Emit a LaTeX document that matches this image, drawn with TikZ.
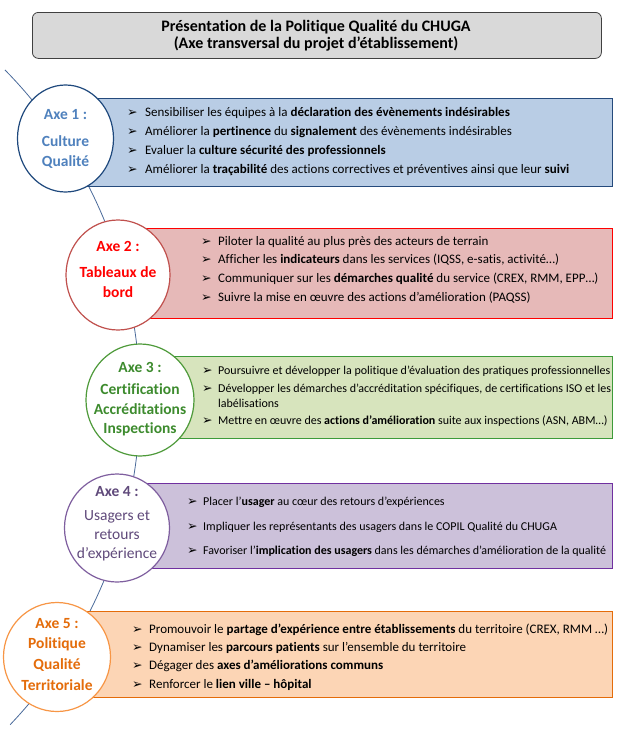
\documentclass[tikz,border=0pt]{standalone}
\usepackage{fontspec}
\setmainfont{Carlito}[Ligatures=NoCommon]
\newfontfamily\symfont{DejaVu Sans}
\usetikzlibrary{shapes.geometric}
\definecolor{arcline}{HTML}{4A6A9A}
\definecolor{titlefill}{HTML}{D9D9D9}
\definecolor{titledraw}{HTML}{404040}
\definecolor{aAtext}{HTML}{4F81BD}
\definecolor{aAcirc}{HTML}{1F497D}
\definecolor{aAfill}{HTML}{B9CDE5}
\definecolor{aAdraw}{HTML}{254A7C}
\definecolor{aBtext}{HTML}{FF0000}
\definecolor{aBcirc}{HTML}{C0504D}
\definecolor{aBfill}{HTML}{E6B9B8}
\definecolor{aBdraw}{HTML}{FF0000}
\definecolor{aCtext}{HTML}{3D8B2E}
\definecolor{aCcirc}{HTML}{4E9A3A}
\definecolor{aCfill}{HTML}{D7E4BD}
\definecolor{aCdraw}{HTML}{3E9B3A}
\definecolor{aDtext}{HTML}{604A7B}
\definecolor{aDcirc}{HTML}{7F5F9F}
\definecolor{aDfill}{HTML}{CCC1DA}
\definecolor{aDdraw}{HTML}{7030A0}
\definecolor{aEtext}{HTML}{E46C0A}
\definecolor{aEcirc}{HTML}{F79646}
\definecolor{aEfill}{HTML}{FCD5B5}
\definecolor{aEdraw}{HTML}{E46C0A}
\newcommand\itemrow[5]{%
  \node[bul] (#1b) at (#2,#4) {➢};
  \node[itemtxt] (#1) at (#3,#4) {#5};}
\begin{document}
\begin{tikzpicture}[x=1pt,y=-1pt,
  axbox/.style={draw, line width=1.1pt, inner sep=0pt, anchor=north west},
  axcirc/.style={ellipse, draw, fill=white, line width=1.2pt, inner sep=0pt},
  axtext/.style={align=center, inner sep=0pt, font=\bfseries\fontsize{15.5}{20}\selectfont},
  itemtxt/.style={anchor=west, inner sep=0pt, font=\fontsize{13}{15}\selectfont},
  smalltxt/.style={font=\fontsize{12}{14}\selectfont},
  bul/.style={anchor=west, inner sep=0pt, font=\symfont\fontsize{12.5}{14}\selectfont}]
\useasboundingbox (0,0) rectangle (628,731);
% title
\node[draw=titledraw, fill=titlefill, rounded corners=6pt, line width=0.8pt,
      minimum width=569pt, minimum height=46pt, anchor=north west] (tbox) at (32,12) {};
\node[align=center, font=\bfseries\fontsize{16}{17}\selectfont] (title) at (316,36)
  {Présentation de la Politique Qualité du CHUGA\\(Axe transversal du projet d’établissement)};
% arc line
\coordinate (arcc) at (-331,400);
\draw[arcline, line width=0.8pt] plot[domain=-44.5:43.6, samples=90]
  ({-331+471*cos(\x)}, {400+471*sin(\x)});
% boxes
\node[axbox, draw=aAdraw, fill=aAfill, minimum width=547pt, minimum height=88pt] (r1) at (65,98) {};
\node[axbox, draw=aBdraw, fill=aBfill, minimum width=494pt, minimum height=90pt] (r2) at (118,228) {};
\node[axbox, draw=aCdraw, fill=aCfill, minimum width=472pt, minimum height=82pt] (r3) at (140,356) {};
\node[axbox, draw=aDdraw, fill=aDfill, minimum width=495pt, minimum height=85pt] (r4) at (117,483) {};
\node[axbox, draw=aEdraw, fill=aEfill, minimum width=555pt, minimum height=86pt] (r5) at (57,611) {};
% circles
\node[axcirc, draw=aAcirc, minimum width=96pt, minimum height=107pt] (c1) at (65.5,138.5) {};
\node[axcirc, draw=aBcirc, minimum width=104pt, minimum height=110pt] (c2) at (118,275) {};
\node[axcirc, draw=aCcirc, minimum width=108pt, minimum height=112pt] (c3) at (140,400) {};
\node[axcirc, draw=aDcirc, minimum width=105pt, minimum height=108pt] (c4) at (117,528) {};
\node[axcirc, draw=aEcirc, minimum width=107pt, minimum height=109pt] (c5) at (57,657) {};
% circle texts
\node[axtext, text=aAtext] (t1) at (65.5,138.5) {Axe 1 :\\[7pt]Culture\\Qualité};
\node[axtext, text=aBtext] (t2) at (118,269) {Axe 2 :\\[6pt]Tableaux de\\bord};
\node[axtext, text=aCtext, font=\bfseries\fontsize{15.5}{19.5}\selectfont] (t3) at (140,399) {Axe 3 :\\[3pt]Certification\\Accréditations\\Inspections};
\node[axtext, text=aDtext, font=\fontsize{15.5}{19}\selectfont] (t4) at (117,524) {\textbf{Axe 4 :}\\[5pt]Usagers et\\retours\\d’expérience};
\node[axtext, text=aEtext, font=\bfseries\fontsize{15.5}{21}\selectfont] (t5) at (57,655) {Axe 5 :\\[-1pt]Politique\\Qualité\\Territoriale};
% box 1 items
\itemrow{a1}{127}{145}{113}{Sensibiliser les équipes à la \textbf{déclaration des évènements indésirables}}
\itemrow{a2}{127}{145}{132}{Améliorer la \textbf{pertinence} du \textbf{signalement} des évènements indésirables}
\itemrow{a3}{127}{145}{151}{Evaluer la \textbf{culture sécurité des professionnels}}
\itemrow{a4}{127}{145}{170}{Améliorer la \textbf{traçabilité} des actions correctives et préventives ainsi que leur \textbf{suivi}}
% box 2 items
\itemrow{b1}{201}{218}{242}{Piloter la qualité au plus près des acteurs de terrain}
\itemrow{b2}{201}{218}{260}{Afficher les \textbf{indicateurs} dans les services (IQSS, e-satis, activité…)}
\itemrow{b3}{201}{218}{279}{Communiquer sur les \textbf{démarches qualité} du service (CREX, RMM, EPP…)}
\itemrow{b4}{201}{218}{298}{Suivre la mise en œuvre des actions d’amélioration (PAQSS)}
% box 3 items
\tikzset{itemtxt/.append style={smalltxt}}
\itemrow{d1}{202}{218}{371}{Poursuivre et développer la politique d’évaluation des pratiques professionnelles}
\itemrow{d2}{202}{218}{389}{Développer les démarches d’accréditation spécifiques, de certifications ISO et les}
\node[itemtxt] (d2w) at (218,403) {labélisations};
\itemrow{d3}{202}{218}{421}{Mettre en œuvre des \textbf{actions d’amélioration} suite aux inspections (ASN, ABM…)}
% box 4 items
\itemrow{e1}{187}{203}{502}{Placer l’\textbf{usager} au cœur des retours d’expériences}
\itemrow{e2}{187}{203}{527}{Impliquer les représentants des usagers dans le COPIL Qualité du CHUGA}
\itemrow{e3}{187}{203}{551}{Favoriser l’\textbf{implication des usagers} dans les démarches d’amélioration de la qualité}
% box 5 items
\tikzset{itemtxt/.append style={font=\fontsize{13}{15}\selectfont}}
\itemrow{f1}{132}{149}{630}{Promouvoir le \textbf{partage d’expérience entre établissements} du territoire (CREX, RMM …)}
\itemrow{f2}{132}{149}{648}{Dynamiser les \textbf{parcours patients} sur l’ensemble du territoire}
\itemrow{f3}{132}{149}{666}{Dégager des \textbf{axes d’améliorations communs}}
\itemrow{f4}{132}{149}{685}{Renforcer le \textbf{lien ville – hôpital}}
\end{tikzpicture}
\end{document}
